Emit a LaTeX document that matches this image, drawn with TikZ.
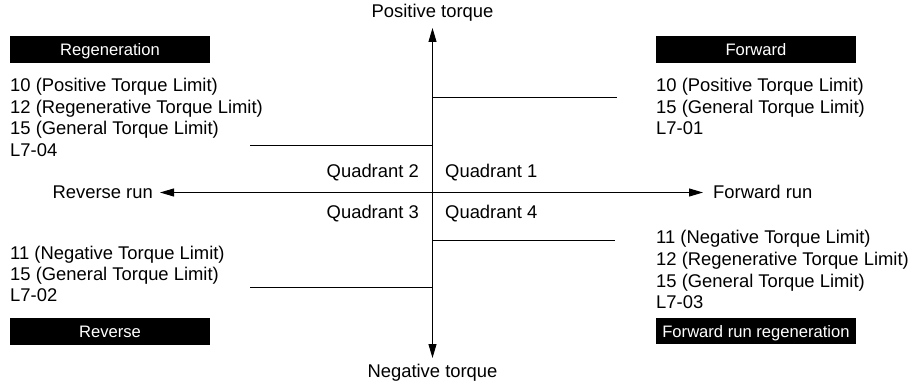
\documentclass[tikz,border=0pt]{standalone}
\usepackage{fontspec}
\setmainfont{Liberation Sans}
\usetikzlibrary{arrows.meta}
\begin{document}
\begin{tikzpicture}[x=1pt,y=-1pt,
  txt/.style={inner sep=0pt,font=\fontsize{18.4}{21.7}\selectfont},
  lline/.style={txt,anchor=base west},
  rline/.style={txt,anchor=base east},
  cline/.style={txt,anchor=base},
  tag/.style={fill=black,text=white,inner sep=0pt,minimum width=200pt,minimum height=26.5pt,
    text height=12pt,text depth=0pt,font=\fontsize{16.6}{18}\selectfont},
  axis/.style={line width=0.9pt,-{Triangle[length=14pt,width=8pt]}},
  lim/.style={line width=0.9pt}]
\useasboundingbox (0,0) rectangle (912,385);
% axes
\coordinate (o) at (432.5,192.5);
\coordinate (ytop) at (432.5,28);
\coordinate (ybot) at (432.5,358);
\coordinate (xleft) at (160,192.5);
\coordinate (xright) at (703,192.5);
\draw[axis] (o) -- (ytop);
\draw[axis] (o) -- (ybot);
\draw[axis] (o) -- (xleft);
\draw[axis] (o) -- (xright);
\node[cline] (postq) at (432.5,18) {Positive torque};
\node[cline] (negtq) at (432.5,377) {Negative torque};
\node[rline] (revrun) at (153,198.5) {Reverse run};
\node[lline] (fwdrun) at (713,198.5) {Forward run};
% quadrant labels
\node[rline] (q2) at (419,177) {Quadrant 2};
\node[lline] (q1) at (445,177) {Quadrant 1};
\node[rline] (q3) at (419,218) {Quadrant 3};
\node[lline] (q4) at (445,218) {Quadrant 4};
% limit lines
\coordinate (l1a) at (432.5,97); \coordinate (l1b) at (617,97);
\coordinate (l2a) at (250,145); \coordinate (l2b) at (432.5,145);
\coordinate (l4a) at (432.5,240); \coordinate (l4b) at (615,240);
\coordinate (l3a) at (250,287); \coordinate (l3b) at (432.5,287);
\draw[lim] (l1a) -- (l1b);
\draw[lim] (l2a) -- (l2b);
\draw[lim] (l4a) -- (l4b);
\draw[lim] (l3a) -- (l3b);
% tags
\node[tag] (regen) at (110,49.5) {Regeneration};
\node[tag] (fwd) at (756,49.5) {Forward};
\node[tag] (rev) at (110,331.5) {Reverse};
\node[tag] (fwdregen) at (756,331) {Forward run regeneration};
% top-left text
\node[lline] (tl1) at (10,92) {10 (Positive Torque Limit)};
\node[lline] (tl2) at (10,113.5) {12 (Regenerative Torque Limit)};
\node[lline] (tl3) at (10,135) {15 (General Torque Limit)};
\node[lline] (tl4) at (10,156.5) {L7-04};
% top-right text
\node[lline] (tr1) at (656,92) {10 (Positive Torque Limit)};
\node[lline] (tr2) at (656,113.5) {15 (General Torque Limit)};
\node[lline] (tr3) at (656,135) {L7-01};
% bottom-left text
\node[lline] (bl1) at (10,259) {11 (Negative Torque Limit)};
\node[lline] (bl2) at (10,280) {15 (General Torque Limit)};
\node[lline] (bl3) at (10,301) {L7-02};
% bottom-right text
\node[lline] (br1) at (656,243) {11 (Negative Torque Limit)};
\node[lline] (br2) at (656,265) {12 (Regenerative Torque Limit)};
\node[lline] (br3) at (656,287) {15 (General Torque Limit)};
\node[lline] (br4) at (656,308) {L7-03};
\end{tikzpicture}
\end{document}
